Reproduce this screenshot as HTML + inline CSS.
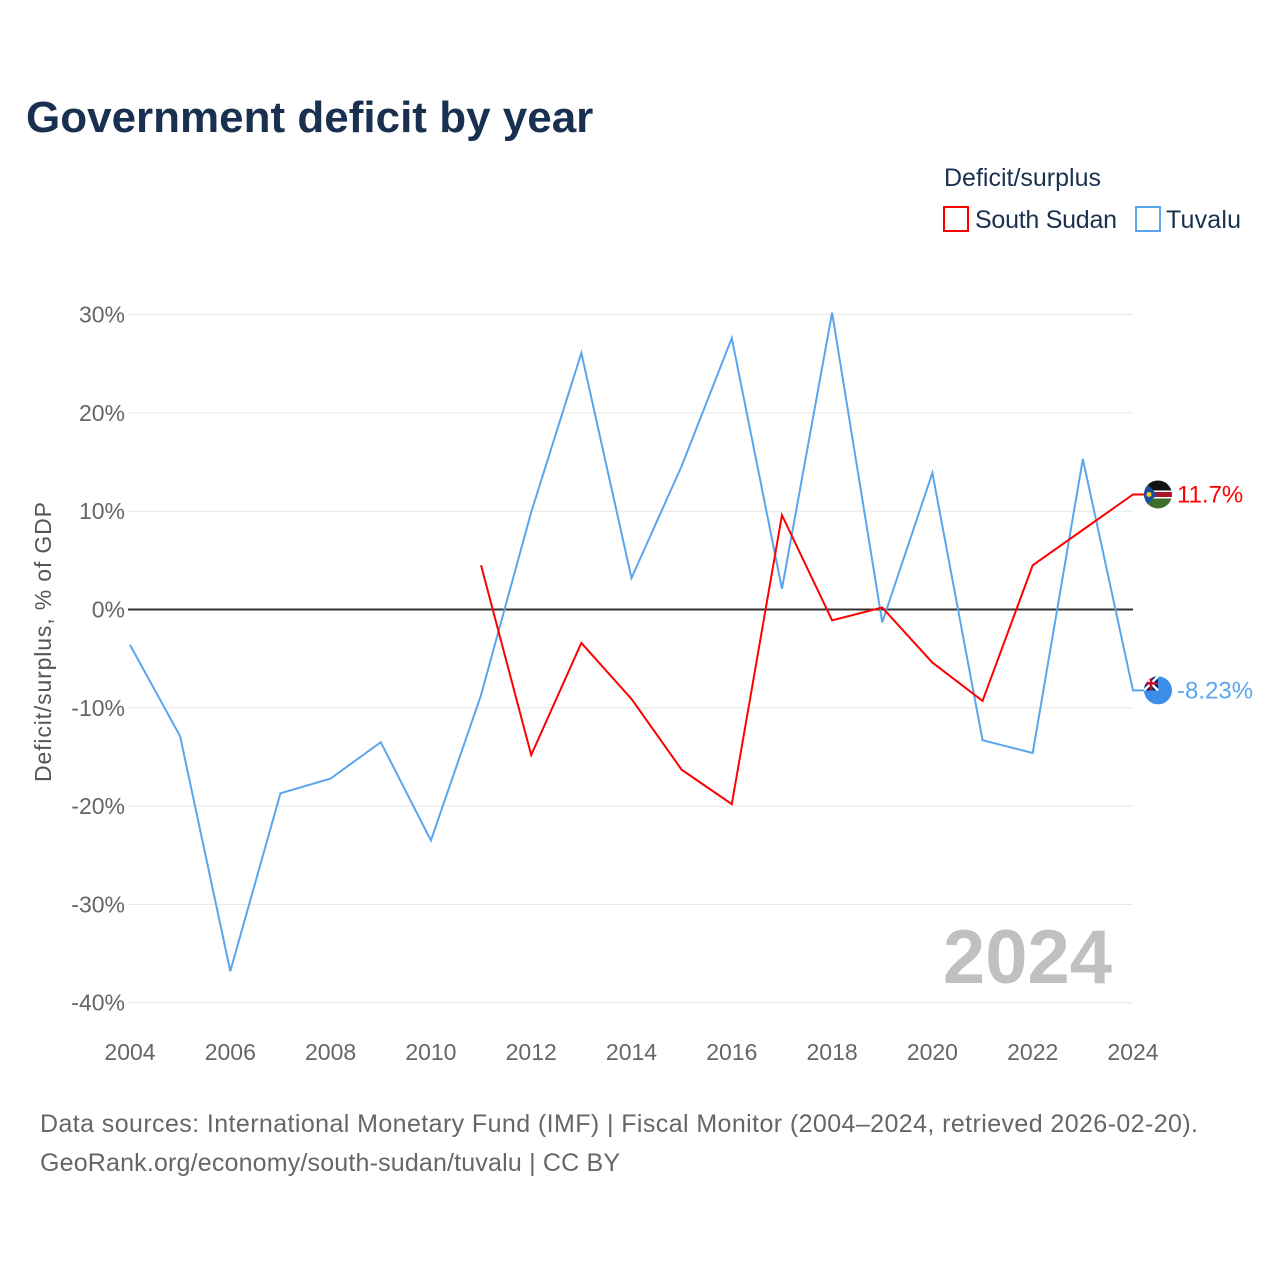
<!DOCTYPE html>
<html><head><meta charset="utf-8"><style>
body{margin:0;background:#fff;font-family:"Liberation Sans",sans-serif;}
svg{display:block}
</style></head><body>
<svg id="c" width="1280" height="1280">
<defs>
<clipPath id="cs"><circle cx="1158" cy="0" r="14"/></clipPath>
</defs>
<text x="26" y="132" font-size="44" font-weight="bold" fill="#1a3050">Government deficit by year</text>
<text x="944" y="186" font-size="25" fill="#1a3050">Deficit/surplus</text>
<g><rect x="944" y="207" width="24" height="24" fill="none" stroke="#ff0000" stroke-width="2"/><text x="975" y="228" font-size="25" fill="#1a3050" textLength="142">South Sudan</text></g>
<g><rect x="1136" y="207" width="24" height="24" fill="none" stroke="#5aa6ee" stroke-width="2"/><text x="1166" y="228" font-size="25" fill="#1a3050" textLength="75">Tuvalu</text></g>
<text transform="translate(51,642) rotate(-90)" text-anchor="middle" font-size="23" fill="#555" textLength="280">Deficit/surplus, % of GDP</text>
<text x="1112" y="983" text-anchor="end" font-size="76" font-weight="bold" fill="#c0c0c0">2024</text>
<text x="40" y="1132" font-size="25" fill="#666" textLength="1158">Data sources: International Monetary Fund (IMF) | Fiscal Monitor (2004–2024, retrieved 2026-02-20).</text>
<text x="40" y="1171" font-size="25" fill="#666" textLength="580">GeoRank.org/economy/south-sudan/tuvalu | CC BY</text>
<g id="plot"></g>
</svg>
<script>
const years=[2004,2005,2006,2007,2008,2009,2010,2011,2012,2013,2014,2015,2016,2017,2018,2019,2020,2021,2022,2023,2024];
const tuvalu=[-3.6,-12.9,-36.8,-18.7,-17.2,-13.5,-23.5,-8.7,9.9,26.1,3.2,14.6,27.6,2.1,30.2,-1.3,13.9,-13.3,-14.6,15.3,-8.23];
const ssYears=[2011,2012,2013,2014,2015,2016,2017,2018,2019,2020,2021,2022,2023,2024];
const southSudan=[4.5,-14.8,-3.4,-9.1,-16.3,-19.8,9.6,-1.1,0.2,-5.4,-9.3,4.5,8.1,11.7];
const yTicks=[30,20,10,0,-10,-20,-30,-40];
const xTicks=[2004,2006,2008,2010,2012,2014,2016,2018,2020,2022,2024];
const X=y=>130+(y-2004)*(1133-130)/20;
const Y=v=>609.5-v*9.83;
const NS="http://www.w3.org/2000/svg";
const g=document.getElementById('plot');
function el(t,a,parent){const e=document.createElementNS(NS,t);for(const k in a)e.setAttribute(k,a[k]);(parent||g).appendChild(e);return e;}
yTicks.forEach(v=>{
 const l=el('line',{x1:128,x2:1133,y1:Y(v),y2:Y(v),stroke:v===0?'#333':'#e6e6e6','stroke-width':v===0?2:1});
 
 
 const t=el('text',{x:125,y:Y(v)+8,'text-anchor':'end','font-size':23,fill:'#666'});
 t.textContent=v+'%';
 
 
});
xTicks.forEach(y=>{
 const t=el('text',{x:X(y),y:1060,'text-anchor':'middle','font-size':23,fill:'#666'});
 t.textContent=y;
 
 
});
function flag(cy,name,kind){
 const grp=el('g',{transform:'translate(0,'+cy+')','clip-path':'url(#cs)'});
 
 
 if(kind==='ss'){
  el('rect',{x:1144,y:-14,width:28,height:10,fill:'#111'},grp);
  el('rect',{x:1144,y:-4,width:28,height:8,fill:'#b0102a'},grp);
  el('rect',{x:1144,y:-4,width:28,height:1.5,fill:'#fff'},grp);
  el('rect',{x:1144,y:2.5,width:28,height:1.5,fill:'#fff'},grp);
  el('rect',{x:1144,y:4,width:28,height:10,fill:'#3e6e2c'},grp);
  el('polygon',{points:'1144,-14 1157,0 1144,14',fill:'#1a4fa0'},grp);
  el('circle',{cx:1149,cy:0,r:2.5,fill:'#f5d020'},grp);
 }else{
  el('rect',{x:1144,y:-14,width:28,height:28,fill:'#3a8ee8'},grp);
  el('rect',{x:1144,y:-14,width:14,height:14,fill:'#012169'},grp);
  el('path',{d:'M1144,-14 L1158,0 M1158,-14 L1144,0',stroke:'#fff','stroke-width':2.5},grp);
  el('path',{d:'M1151,-14 V0 M1144,-7 H1158',stroke:'#c8102e','stroke-width':2.5},grp);
 }
}
function series(xs,vs,col,name,label,kind){
 let d=xs.map((y,i)=>(i?'L':'M')+X(y)+','+Y(vs[i])).join(' ');
 const last=vs[vs.length-1];
 d+=' L'+(X(2024)+12)+','+Y(last);
 const p=el('path',{d:d,fill:'none',stroke:col,'stroke-width':2});
 
 
 flag(Y(last),name,kind);
 const t=el('text',{x:1177,y:Y(last)+8,'font-size':24,fill:col});
 t.textContent=label;
 
 
}
series(years,tuvalu,'#5aa6ee','tuvalu','-8.23%','tv');
series(ssYears,southSudan,'#ff0000','south-sudan','11.7%','ss');
</script>
</body></html>
